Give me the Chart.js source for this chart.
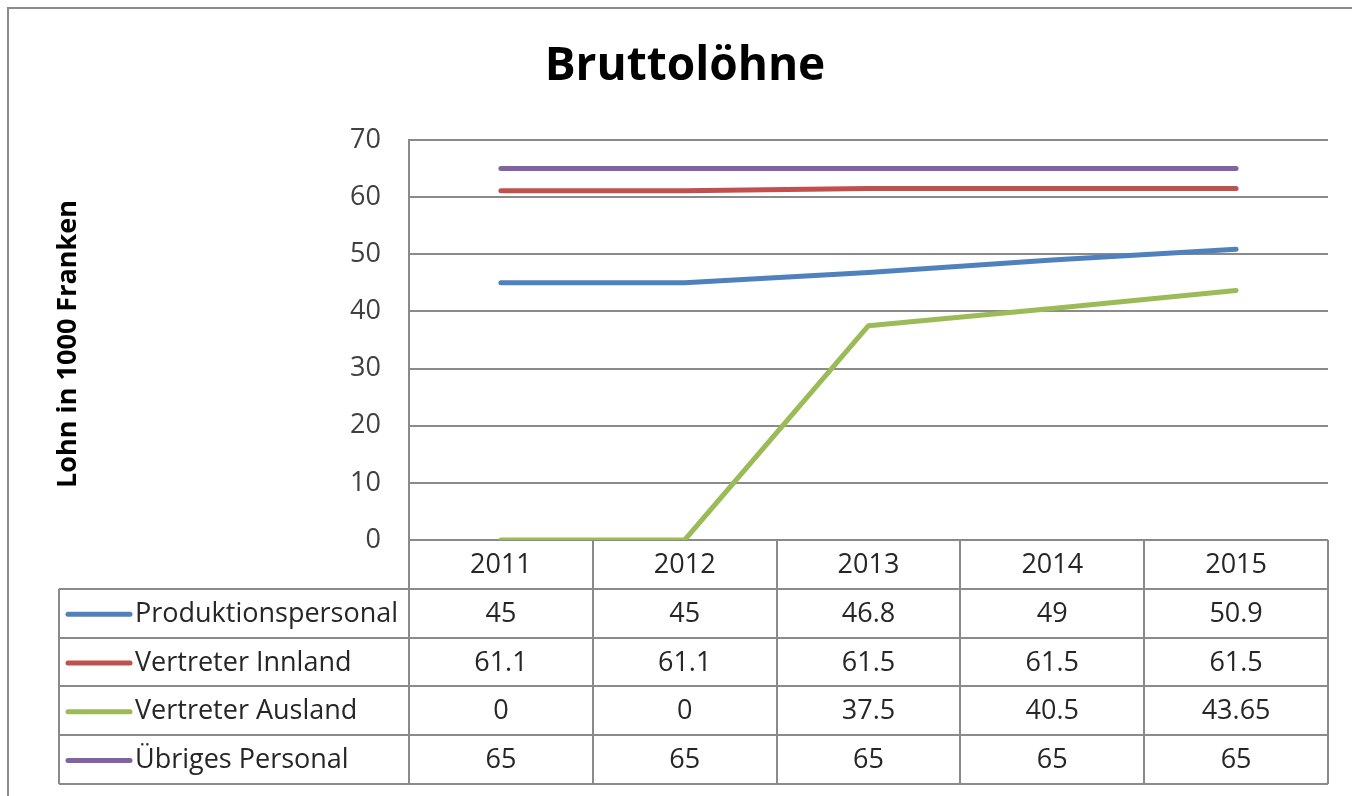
<!DOCTYPE html>
<html>
<head>
<meta charset="utf-8">
<title>Bruttolöhne</title>
<script src="https://cdn.jsdelivr.net/npm/chart.js@4.4.1/dist/chart.umd.min.js"></script>
<style>
  html, body { margin: 0; padding: 0; background: #ffffff; }
  #wrap { width: 1352px; height: 796px; position: relative; }
</style>
</head>
<body>
<div id="wrap"><canvas id="chart" width="1352" height="796"></canvas></div>
<script>
  // Data
  const years = ['2011', '2012', '2013', '2014', '2015'];
  const seriesNames = ['Produktionspersonal', 'Vertreter Innland', 'Vertreter Ausland', 'Übriges Personal'];
  const produktion = [45, 45, 46.8, 49, 50.9];
  const innland = [61.1, 61.1, 61.5, 61.5, 61.5];
  const ausland = [0, 0, 37.5, 40.5, 43.65];
  const uebrige = [65, 65, 65, 65, 65];
  const tableText = [
    ['45', '45', '46.8', '49', '50.9'],
    ['61.1', '61.1', '61.5', '61.5', '61.5'],
    ['0', '0', '37.5', '40.5', '43.65'],
    ['65', '65', '65', '65', '65']
  ];
  const yTicks = [0, 10, 20, 30, 40, 50, 60, 70];
  const colors = ['#4F81BD', '#C0504D', '#9BBB59', '#8064A2'];

  const FONT = '"Open Sans", sans-serif';
  const GRID = '#8a8a8a';
  const TEXT = '#262626';

  // title, axis title, frame and the data table under the plot
  const excelExtras = {
    id: 'excelExtras',
    afterDraw(chart) {
      const ctx = chart.ctx;
      const x = chart.scales.x;
      const area = chart.chartArea;
      const half = (x.getPixelForValue(1) - x.getPixelForValue(0)) / 2;
      const rowH = 48.8;
      const tableLeft = 59;

      ctx.save();
      // outer frame (top and left visible)
      ctx.strokeStyle = '#8c8c8c';
      ctx.lineWidth = 2;
      ctx.beginPath();
      ctx.moveTo(8, 800);
      ctx.lineTo(8, 8);
      ctx.lineTo(1360, 8);
      ctx.stroke();

      // title
      ctx.fillStyle = '#000000';
      ctx.font = 'bold 46px ' + FONT;
      ctx.textAlign = 'center';
      ctx.textBaseline = 'middle';
      ctx.fillText('Bruttolöhne', 685, 67);

      // y axis title
      ctx.save();
      ctx.translate(68, 344);
      ctx.rotate(-Math.PI / 2);
      ctx.font = 'bold 27px ' + FONT;
      ctx.fillText('Lohn in 1000 Franken', 0, 0);
      ctx.restore();

      // table grid
      ctx.strokeStyle = GRID;
      ctx.lineWidth = 2;
      const top = area.bottom;
      const bottom = top + rowH * 5;
      ctx.beginPath();
      for (let r = 1; r <= 5; r++) {
        const yy = Math.round(top + rowH * r);
        ctx.moveTo(tableLeft, yy);
        ctx.lineTo(area.right, yy);
      }
      for (let i = 0; i < years.length; i++) {
        const xx = Math.round(x.getPixelForValue(i) + half);
        ctx.moveTo(xx, top);
        ctx.lineTo(xx, bottom);
      }
      ctx.moveTo(area.left, top);
      ctx.lineTo(area.left, bottom);
      ctx.moveTo(tableLeft, top + rowH);
      ctx.lineTo(tableLeft, bottom);
      ctx.stroke();

      // header years
      ctx.fillStyle = TEXT;
      ctx.font = '27px ' + FONT;
      ctx.textAlign = 'center';
      years.forEach((yr, i) => {
        ctx.fillText(yr, x.getPixelForValue(i), top + rowH / 2 + 1);
      });

      // rows
      seriesNames.forEach((name, r) => {
        const cy = top + rowH * (r + 1) + rowH / 2 + 1;
        ctx.strokeStyle = colors[r];
        ctx.lineWidth = 5;
        ctx.lineCap = 'round';
        ctx.beginPath();
        ctx.moveTo(68, cy);
        ctx.lineTo(130, cy);
        ctx.stroke();
        ctx.textAlign = 'left';
        ctx.fillStyle = TEXT;
        ctx.fillText(name, 135, cy);
        ctx.textAlign = 'center';
        tableText[r].forEach((v, i) => {
          ctx.fillText(v, x.getPixelForValue(i), cy);
        });
      });
      ctx.restore();
    }
  };

  const mk = (label, data, color) => ({
    label: label,
    data: data,
    borderColor: color,
    backgroundColor: color,
    borderWidth: 5,
    borderCapStyle: 'round',
    borderJoinStyle: 'round',
    pointRadius: 0,
    tension: 0,
    fill: false
  });

  new Chart(document.getElementById('chart'), {
    type: 'line',
    data: {
      labels: years,
      datasets: [
        mk(seriesNames[0], produktion, colors[0]),
        mk(seriesNames[1], innland, colors[1]),
        mk(seriesNames[2], ausland, colors[2]),
        mk(seriesNames[3], uebrige, colors[3])
      ]
    },
    options: {
      responsive: false,
      animation: false,
      layout: { padding: { top: 140, left: 0, right: 24, bottom: 256 } },
      plugins: {
        legend: { display: false },
        title: { display: false },
        tooltip: { enabled: false }
      },
      scales: {
        x: {
          type: 'category',
          offset: true,
          display: false
        },
        y: {
          min: 0,
          max: 70,
          afterBuildTicks: s => { s.ticks = yTicks.map(v => ({ value: v })); },
          afterFit: s => { s.width = 409; },
          ticks: {
            color: '#404040',
            font: { family: FONT, size: 27 },
            padding: 28
          },
          grid: { color: GRID, lineWidth: 2, drawTicks: false },
          border: { display: true, color: GRID, width: 2 }
        }
      }
    },
    plugins: [excelExtras]
  });
</script>
</body>
</html>
